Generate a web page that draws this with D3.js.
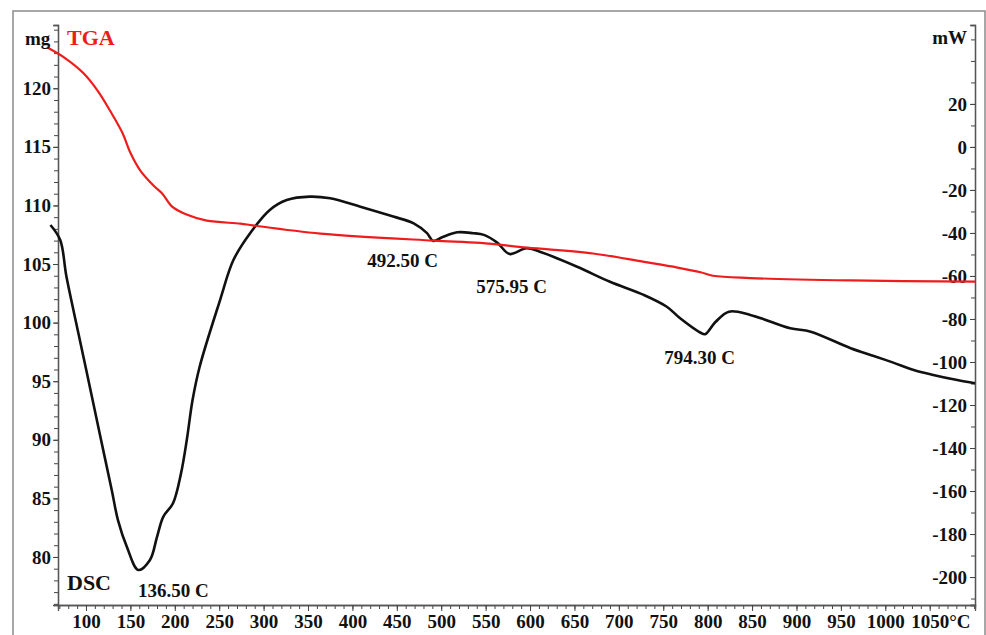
<!DOCTYPE html>
<html>
<head>
<meta charset="utf-8">
<script src="https://cdn.jsdelivr.net/npm/d3@7"></script>
<style>
  body { margin: 0; background: #fff; }
  svg text { font-family: "Liberation Serif", "Times New Roman", serif; font-weight: bold; }
</style>
</head>
<body>
<div id="chart"></div>
<script>
// TGA curve (mass, mg)
var tgaTemp = [56, 76, 97, 114, 127, 141, 150, 161, 176, 186, 197, 214, 236, 274, 288, 364, 491, 544, 597, 671, 727, 766, 792, 806, 848, 961, 1101];
var tgaMass = [123.5, 122.6, 121.3, 119.7, 118.1, 116.2, 114.5, 113.0, 111.7, 111.0, 109.9, 109.2, 108.7, 108.45, 108.3, 107.6, 107.0, 106.8, 106.4, 105.9, 105.2, 104.7, 104.3, 104.0, 103.8, 103.6, 103.5];

// DSC curve (heat flow, mW)
var dscTemp = [60, 71, 78, 91.4, 104.3, 117, 129, 136, 146, 159, 172, 180, 187, 198, 207, 213.5, 220, 228, 251, 266, 285, 307, 326, 352, 375, 409, 446, 469, 484, 491, 501, 518, 536, 548, 563, 577, 596, 611, 653, 690, 728, 754, 769, 792, 797, 809, 824, 848, 893, 916, 961, 987, 1009, 1032, 1054, 1081, 1101];
var dscPower = [-36.3, -43.3, -60.3, -86.5, -111.5, -136.3, -159.5, -173.5, -185.9, -196.7, -192.1, -181.3, -172.0, -165.7, -151.8, -136.3, -117.7, -102.2, -71.2, -52.6, -40.0, -29.3, -24.7, -23.1, -23.9, -27.8, -32.4, -35.5, -40.1, -43.7, -42.0, -39.7, -40.1, -40.9, -44.5, -49.8, -47.1, -48.7, -55.7, -62.7, -68.8, -74.3, -79.7, -86.4, -87.1, -81.3, -76.6, -78.1, -84.3, -85.9, -93.6, -97.2, -100.3, -103.7, -106.0, -108.4, -109.9];

// peak annotations
var peakLabels = ["136.50 C", "492.50 C", "575.95 C", "794.30 C"];
var peakTemp = [136.5, 492.5, 575.95, 794.3];
var peakPower = [-209.3, -55.8, -67.9, -100.9];

// tick labels
var xTicks = [100, 150, 200, 250, 300, 350, 400, 450, 500, 550, 600, 650, 700, 750, 800, 850, 900, 950, 1000, 1050];
var mgTicks = [80, 85, 90, 95, 100, 105, 110, 115, 120];
var mwTicks = [20, 0, -20, -40, -60, -80, -100, -120, -140, -160, -180, -200];

var width = 986, height = 635;
var plotL = 58, plotR = 975, plotT = 25, plotB = 605;

var svg = d3.select("#chart").append("svg")
    .attr("width", width)
    .attr("height", height);

// outer frame
svg.append("rect")
    .attr("x", 13).attr("y", 11)
    .attr("width", 972).attr("height", 640)
    .attr("fill", "none")
    .attr("stroke", "#8a8a8a")
    .attr("stroke-width", 1.5);

var x = d3.scaleLinear().domain([68.5, 1101]).range([plotL, plotR]);
var yL = d3.scaleLinear().domain([75.9, 125.4]).range([plotB, plotT]);
var yR = d3.scaleLinear().domain([-213, 56.7]).range([plotB, plotT]);

function styleAxis(g, size) {
    g.select(".domain").attr("stroke", "#555").attr("stroke-width", 1.3);
    g.selectAll(".tick line").attr("stroke", "#444");
    g.selectAll(".tick text").attr("fill", "#111").style("font-size", size + "px");
}

// x axis: minor then major
svg.append("g")
    .attr("transform", "translate(0," + plotB + ")")
    .call(d3.axisBottom(x).tickValues(d3.range(70, 1101, 10)).tickSize(4).tickFormat(""))
    .call(g => styleAxis(g, 19));
var xg = svg.append("g")
    .attr("transform", "translate(0," + plotB + ")")
    .call(d3.axisBottom(x).tickValues(xTicks).tickSize(6).tickPadding(4).tickFormat(d => String(d)))
    .call(g => styleAxis(g, 19));
xg.selectAll(".tick text")
    .filter(d => d === 1050)
    .text("1050\u00B0C")
    .attr("text-anchor", "start")
    .attr("x", -19);

// left axis (mg)
svg.append("g")
    .attr("transform", "translate(" + plotL + ",0)")
    .call(d3.axisLeft(yL).tickValues(d3.range(76, 126, 1)).tickSize(4).tickFormat(""))
    .call(g => styleAxis(g, 19));
svg.append("g")
    .attr("transform", "translate(" + plotL + ",0)")
    .call(d3.axisLeft(yL).tickValues(mgTicks).tickSize(5).tickPadding(2))
    .call(g => styleAxis(g, 19));

// right axis (mW)
svg.append("g")
    .attr("transform", "translate(" + plotR + ",0)")
    .call(d3.axisLeft(yR).tickValues(d3.range(-210, 51, 10)).tickSize(4).tickFormat(""))
    .call(g => styleAxis(g, 19));
svg.append("g")
    .attr("transform", "translate(" + plotR + ",0)")
    .call(d3.axisLeft(yR).tickValues(mwTicks).tickSize(5).tickPadding(3).tickFormat(d => String(d)))
    .call(g => styleAxis(g, 19));

// curves
var tgaLine = d3.line()
    .x(d => x(d[0]))
    .y(d => yL(d[1]))
    .curve(d3.curveCatmullRom.alpha(0.5));
var dscLine = d3.line()
    .x(d => x(d[0]))
    .y(d => yR(d[1]))
    .curve(d3.curveCatmullRom.alpha(0.5));

svg.append("path")
    .datum(d3.zip(dscTemp, dscPower))
    .attr("d", dscLine)
    .attr("fill", "none")
    .attr("stroke", "#111")
    .attr("stroke-width", 2.6);

svg.append("path")
    .datum(d3.zip(tgaTemp, tgaMass))
    .attr("d", tgaLine)
    .attr("fill", "none")
    .attr("stroke", "#ee1c1c")
    .attr("stroke-width", 2.2);

// labels
svg.append("text").attr("x", 25).attr("y", 45).style("font-size", "19px").attr("fill", "#111").text("mg");
svg.append("text").attr("x", 67).attr("y", 45).style("font-size", "22px").attr("fill", "#ee1c1c").text("TGA");
svg.append("text").attr("x", 967).attr("y", 44).attr("text-anchor", "end").style("font-size", "19px").attr("fill", "#111").text("mW");
svg.append("text").attr("x", 67).attr("y", 590).style("font-size", "22px").attr("fill", "#111").text("DSC");

var peakOffset = [55, -32, 3, -3];
svg.selectAll(".peak")
    .data(peakLabels)
    .enter()
    .append("text")
    .attr("class", "peak")
    .attr("x", (d, i) => x(peakTemp[i]) + peakOffset[i])
    .attr("y", (d, i) => yR(peakPower[i]))
    .attr("text-anchor", "middle")
    .style("font-size", "19px")
    .attr("fill", "#111")
    .text(d => d);
</script>
</body>
</html>
